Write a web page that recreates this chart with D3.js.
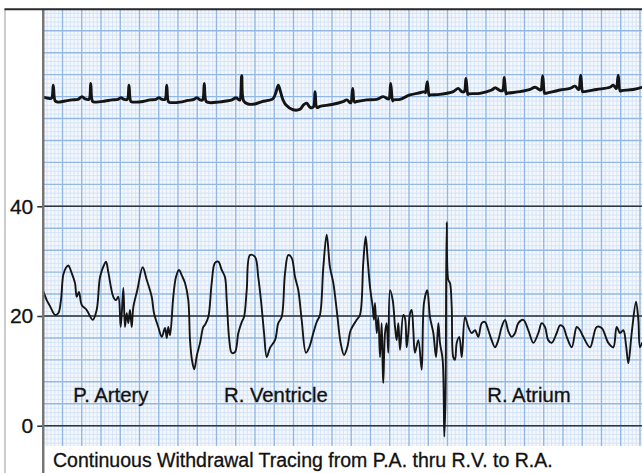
<!DOCTYPE html>
<html>
<head>
<meta charset="utf-8">
<script src="https://cdn.jsdelivr.net/npm/d3@7"></script>
<style>
  html, body { margin: 0; padding: 0; background: #fff; }
  svg { display: block; }
  text { font-family: "Liberation Sans", Arial, Helvetica, sans-serif; fill: #111; }
</style>
</head>
<body>
<svg id="chart" width="642" height="473"></svg>
<script>
// Time is in units of 10 ms: one large box of the paper = 20 units = 0.2 s.
// Pressure in mmHg; one large box = 4 mmHg.

// Catheter pressure during withdrawal, [time, mmHg]
const pressure = [
  [0.3,24.4],[3.6,22.9],[7.0,21.8],[10.1,20.7],[12.2,20.2],[15.6,20.5],[18.4,22.9],[20.8,27.5],
  [23.6,28.8],[26.0,29.2],[29.6,27.8],[33.0,26.0],[34.8,23.5],[37.1,24.4],[40.0,22.0],[45.1,21.1],
  [51.4,19.3],[55.5,21.1],[59.0,27.1],[63.1,29.3],[65.2,29.9],[67.6,28.0],[72.8,23.5],[75.6,22.9],
  [78.0,23.5],[80.5,18.0],[83.2,25.1],[84.9,18.0],[86.7,20.5],[88.4,18.7],[90.1,21.1],[91.9,18.0],
  [93.6,21.6],[97.7,24.7],[103.3,28.9],[107.5,26.6],[112.7,23.5],[115.1,20.5],[119.5,18.0],[123.1,16.2],
  [126.5,17.8],[128.3,16.0],[129.9,18.0],[131.7,16.5],[135.1,23.5],[137.9,27.1],[141.0,28.4],[144.2,27.3],
  [147.3,26.0],[150.7,22.9],[152.5,15.6],[154.5,12.0],[156.9,10.3],[159.7,12.9],[162.9,15.1],[166.3,18.0],
  [168.1,18.4],[171.5,19.8],[175.0,26.0],[178.4,29.7],[181.9,29.9],[185.4,28.4],[188.8,27.1],[190.6,22.9],
  [193.3,15.6],[195.8,13.3],[199.2,13.4],[202.7,16.9],[206.2,18.9],[208.6,19.8],[211.4,24.7],[214.8,31.1],
  [220.0,30.8],[223.4,27.1],[226.2,22.9],[229.4,16.9],[232.2,12.5],[235.6,14.2],[240.8,15.6],[244.2,18.7],
  [247.7,19.8],[251.2,27.8],[254.6,31.1],[258.1,30.6],[261.6,27.1],[265.0,24.7],[268.5,19.3],[273.0,13.3],
  [276.4,14.3],[280.6,16.9],[284.1,18.9],[287.5,20.2],[291.0,28.9],[294.5,34.8],[297.9,28.9],[301.4,26.0],
  [304.9,21.1],[309.0,15.1],[312.5,12.9],[315.9,14.3],[319.4,17.4],[325.7,19.3],[329.1,20.2],[332.5,29.7],
  [335.0,34.5],[337.1,30.2],[339.5,25.3],[342.3,21.6],[343.6,19.3],[344.7,22.4],[346.5,16.9],[348.1,19.8],
  [349.9,12.5],[351.6,18.7],[352.7,10.7],[353.3,7.8],[355.1,16.9],[356.8,18.7],[358.5,13.3],[360.3,24.7],
  [363.1,22.9],[365.5,18.0],[367.2,15.6],[368.9,18.7],[370.7,13.8],[374.1,20.2],[375.9,19.6],[377.6,14.3],
  [379.3,16.9],[381.1,20.5],[382.8,21.1],[384.5,17.4],[386.2,13.3],[389.7,15.6],[393.2,10.2],[395.6,22.4],
  [399.0,24.7],[401.8,19.8],[405.3,16.9],[408.1,12.5],[410.5,18.7],[412.2,15.1],[415.0,12.0],[416.7,-2.0],
  [417.9,4.7],[419.2,37.1],[420.8,26.6],[422.6,26.0],[424.4,21.6],[426.0,12.5],[427.8,12.0],[429.6,15.1],
  [432.3,16.2],[434.8,12.5],[438.2,19.8],[441.6,18.0],[445.2,16.9],[448.6,17.4],[452.0,16.2],[455.6,18.7],
  [459.0,18.9],[462.4,17.4],[465.9,15.6],[469.4,14.3],[472.8,15.6],[476.3,18.0],[479.8,19.3],[483.2,17.2],
  [486.7,16.2],[490.2,16.9],[493.6,18.7],[498.8,19.3],[504.0,17.4],[509.2,15.1],[514.4,16.9],[517.9,18.7],
  [521.3,18.0],[524.7,15.6],[528.3,15.1],[533.5,16.9],[536.9,18.3],[540.3,18.0],[543.9,16.2],[549.1,14.3],
  [554.3,18.0],[557.7,17.4],[561.1,16.2],[568.1,14.3],[575.0,18.0],[580.2,17.8],[587.1,15.1],[592.3,14.3],
  [595.8,18.0],[599.2,16.9],[602.7,17.4],[605.5,14.7],[607.9,11.4],[611.4,16.9],[615.9,22.6],[618.3,19.3],
  [620.0,14.3],[622.1,15.1]
];

// ECG lead recorded on the same strip, [time, level on the pressure scale]
const ecg = [
  [0.3,59.9],[4.9,59.7],[8.6,59.7],[10.4,62.1],[12.4,59.2],[15.3,59.0],[22.6,59.2],[29.9,59.4],
  [36.1,59.5],[40.3,60.0],[43.4,59.6],[47.5,59.5],
  [49.3,62.4],[51.3,59.1],[54.8,59.0],[64.2,59.2],[71.4,59.4],[77.7,59.5],[80.8,59.8],[83.9,59.5],[87.3,59.5],
  [89.1,62.1],[91.1,59.1],[94.3,59.0],[103.6,59.1],[110.9,59.4],[117.1,59.5],[120.3,59.8],[123.4,59.5],[126.5,59.5],
  [128.3,62.1],[130.3,59.0],[133.8,58.9],[142.1,59.0],[150.3,59.3],[156.6,59.5],[159.7,59.8],[162.9,59.4],[165.5,59.4],
  [167.3,62.4],[169.3,59.1],[173.2,58.9],[181.6,59.0],[189.9,59.2],[196.1,59.4],[200.3,59.8],[203.4,59.4],[204.4,59.4],
  [206.2,63.8],[208.2,59.2],[212.7,58.65],[220.0,58.65],[227.3,59.1],[233.5,59.3],[238.7,59.6],[241.8,60.8],
  [244.2,62.1],[246.5,60.9],[249.1,59.4],[252.0,58.5],[259.5,57.6],[266.8,57.7],[270.5,58.5],[273.7,58.8],
  [277.2,58.05],[280.6,58.1],[282.4,60.9],[284.4,58.0],[287.5,58.2],[301.0,58.6],[311.4,59.1],[315.3,59.4],
  [318.7,58.9],[319.7,58.9],[321.5,61.5],[323.4,59.0],[325.7,59.1],[336.1,59.4],[346.5,59.5],[353.3,60.0],
  [357.9,59.6],[359.2,59.6],[361.0,62.4],[363.0,59.2],[364.0,59.4],[370.7,59.5],[381.0,60.3],[391.4,60.7],
  [396.6,60.9],[397.2,60.7],[399.0,62.7],[401.0,60.2],[402.0,60.3],[412.2,60.4],[426.0,60.9],[431.2,61.5],
  [434.8,60.9],[437.4,60.9],[439.2,63.3],[441.2,60.4],[442.0,60.5],[453.7,60.6],[465.9,61.2],[469.4,61.6],
  [474.6,61.1],[477.2,61.1],[479.0,63.5],[481.0,60.5],[482.0,60.6],[495.4,60.9],[505.8,61.3],[510.9,61.7],
  [516.1,61.2],[517.1,61.2],[518.9,63.8],[520.9,60.6],[521.8,60.6],[536.9,61.2],[547.3,61.5],[552.5,61.9],
  [555.9,61.3],[556.6,61.3],[558.4,63.9],[560.4,60.9],[561.4,60.9],[575.0,61.3],[588.8,61.7],[592.2,62.1],
  [595.0,61.5],[595.6,61.5],[597.4,63.9],[599.4,61.0],[600.9,61.1],[613.0,61.3],[622.1,61.7]
];

const yTicks = [0, 20, 40];
const regions = ["P. Artery", "R. Ventricle", "R. Atrium"];
const caption = "Continuous Withdrawal Tracing from P.A. thru R.V. to R.A.";

// ---- layout ----
const W = 642, H = 473;
const plot = { left: 43.25, right: 642, top: 8.84, bottom: 446 };
const tMax = 622.1, pMax = 76;
const inkFont = "'Liberation Sans', Arial, Helvetica, sans-serif";

const svg = d3.select("#chart");

const x = d3.scaleLinear().domain([0, tMax]).range([plot.left, plot.right]);
const y = d3.scaleLinear().domain([0, pMax]).range([425.7, plot.top]);

svg.append("rect").attr("width", W).attr("height", H).attr("fill", "#fff");

svg.append("defs").append("clipPath").attr("id", "plotClip")
  .append("rect")
  .attr("x", plot.left).attr("y", plot.top)
  .attr("width", plot.right - plot.left).attr("height", plot.bottom - plot.top);

// ---- recording paper ----
const grid = svg.append("g").attr("clip-path", "url(#plotClip)");
const pBottom = y.invert(plot.bottom);

const minorT = d3.range(0, tMax + 1, 4).filter(t => t % 20 !== 0);
const majorT = d3.range(0, tMax + 1, 20);
const minorP = d3.range(Math.ceil(pBottom / 0.8) * 0.8, pMax + 0.01, 0.8)
  .filter(p => Math.abs(p / 4 - Math.round(p / 4)) > 0.01);
const majorP = d3.range(Math.ceil(pBottom / 4) * 4, pMax + 0.01, 4);

grid.append("rect")
  .attr("x", plot.left).attr("y", plot.top)
  .attr("width", plot.right - plot.left).attr("height", plot.bottom - plot.top)
  .attr("fill", "#f4f8fd");
grid.selectAll(".vminor").data(minorT).join("line")
  .attr("x1", d => x(d)).attr("x2", d => x(d))
  .attr("y1", plot.top).attr("y2", plot.bottom)
  .attr("stroke", "#d2e2f5").attr("stroke-width", 0.9);
grid.selectAll(".hminor").data(minorP).join("line")
  .attr("y1", d => y(d)).attr("y2", d => y(d))
  .attr("x1", plot.left).attr("x2", plot.right)
  .attr("stroke", "#d2e2f5").attr("stroke-width", 0.9);
grid.selectAll(".vmajor").data(majorT).join("line")
  .attr("x1", d => x(d)).attr("x2", d => x(d))
  .attr("y1", plot.top).attr("y2", plot.bottom)
  .attr("stroke", "#93b8e3").attr("stroke-width", 1.4);
grid.selectAll(".hmajor").data(majorP).join("line")
  .attr("y1", d => y(d)).attr("y2", d => y(d))
  .attr("x1", plot.left).attr("x2", plot.right)
  .attr("stroke", "#93b8e3").attr("stroke-width", 1.4);

// calibration lines at 0, 20, 40 mmHg
svg.append("g").selectAll("line").data(yTicks).join("line")
  .attr("x1", plot.left).attr("x2", plot.right)
  .attr("y1", d => y(d)).attr("y2", d => y(d))
  .attr("stroke", "#2e3640").attr("stroke-width", 1.6);

// ---- traces ----
const traces = svg.append("g").attr("clip-path", "url(#plotClip)");
traces.append("path")
  .datum(ecg)
  .attr("fill", "none").attr("stroke", "#141414").attr("stroke-width", 2.9)
  .attr("stroke-linejoin", "round").attr("stroke-linecap", "round")
  .attr("d", d3.line().x(d => x(d[0])).y(d => y(d[1])).curve(d3.curveCatmullRom.alpha(0.5)));
traces.append("path")
  .datum(pressure)
  .attr("fill", "none").attr("stroke", "#151515").attr("stroke-width", 1.9)
  .attr("stroke-linejoin", "round").attr("stroke-linecap", "round")
  .attr("d", d3.line().x(d => x(d[0])).y(d => y(d[1])).curve(d3.curveCatmullRom.alpha(0.5)));

// ---- axis ----
const axis = svg.append("g")
  .attr("transform", `translate(${plot.left},0)`)
  .call(d3.axisLeft(y).tickValues(yTicks).tickSize(6).tickPadding(4).tickFormat(d3.format("d")));
axis.select(".domain").remove();
axis.selectAll(".tick line").attr("stroke", "#2e3640").attr("stroke-width", 1.6);
axis.selectAll(".tick text")
  .attr("font-family", inkFont)
  .attr("font-size", 21).attr("fill", "#111")
  .attr("stroke", "#111").attr("stroke-width", 0.3);

// ---- frame ----
svg.append("line").attr("x1", 5).attr("x2", 5).attr("y1", 9).attr("y2", H)
  .attr("stroke", "#9a9a9a").attr("stroke-width", 1);
svg.append("line").attr("x1", plot.left).attr("x2", plot.left).attr("y1", 9).attr("y2", H)
  .attr("stroke", "#737373").attr("stroke-width", 2.4);
svg.append("line").attr("x1", 4.5).attr("x2", W).attr("y1", 9.3).attr("y2", 9.3)
  .attr("stroke", "#2a2a2a").attr("stroke-width", 2);

// ---- labels ----
const labelT = [31.2, 187.8, 461.4];
svg.append("g").selectAll("text").data(regions).join("text")
  .attr("x", (d, i) => x(labelT[i]))
  .attr("y", 401.7)
  .attr("font-size", 20.3)
  .attr("stroke", "#111").attr("stroke-width", 0.3)
  .text(d => d);

svg.append("text")
  .attr("x", 53).attr("y", 466.5)
  .attr("font-size", 19.5)
  .attr("stroke", "#111").attr("stroke-width", 0.3)
  .text(caption);
</script>
</body>
</html>
